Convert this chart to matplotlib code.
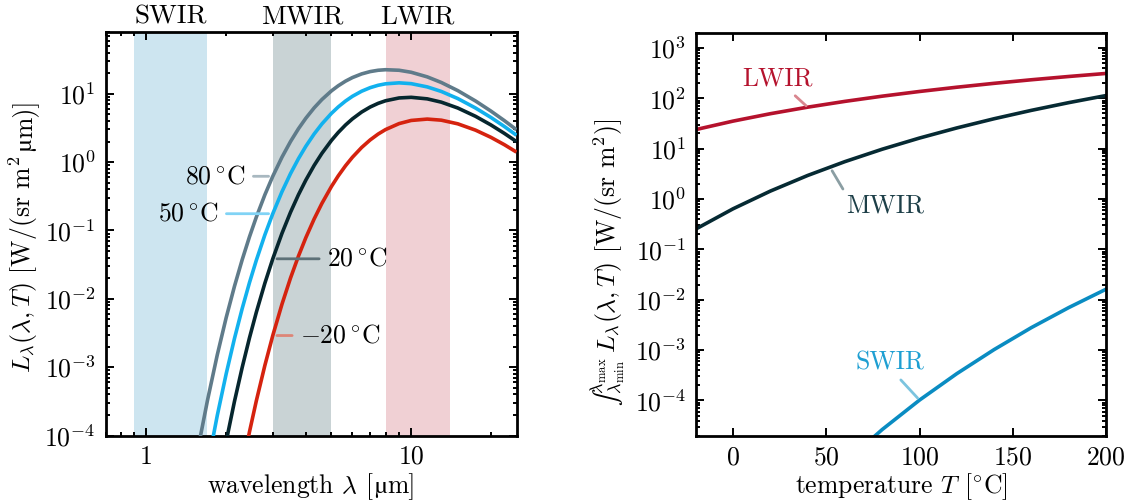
import numpy as np
import matplotlib
matplotlib.use("Agg")
import matplotlib.pyplot as plt
from matplotlib.ticker import LogLocator, FixedLocator, FixedFormatter, NullFormatter, MultipleLocator
import matplotlib.transforms as mtransforms

plt.rcParams['font.family'] = ['cmr10', 'DejaVu Serif']
plt.rcParams['mathtext.fontset'] = 'cm'
plt.rcParams['axes.formatter.use_mathtext'] = True
plt.rcParams['axes.unicode_minus'] = True

FS = 18.5

# ---------------- data: spectral radiance (log10 of W/(sr m^2 um)) ----------------
wavelength_um = [1.5, 1.6, 1.7, 1.85, 2.0, 2.15, 2.3, 2.45, 2.6, 2.8, 3.0, 3.25, 3.5, 3.75,
                 4.0, 4.3, 4.6, 5.0, 5.3, 5.65, 6.0, 6.5, 7.0, 7.5, 8.0, 9.0, 10.0, 11.5,
                 13.0, 15.0, 17.5, 20.0, 22.5, 25.0]
log_radiance_m20 = [-9.26, -8.372, -7.596, -6.602, -5.771, -5.067, -4.465, -3.945, -3.4927,
                    -2.9755, -2.5375, -2.0784, -1.6969, -1.3766, -1.1052, -0.8317, -0.604,
                    -0.3557, -0.2028, -0.0531, 0.0712, 0.2140, 0.3243, 0.4097, 0.4754, 0.5629,
                    0.6090, 0.6291, 0.6130, 0.5598, 0.4674, 0.3626, 0.2542, 0.1461]
log_radiance_p20 = [-7.015, -6.267, -5.615, -4.782, -4.087, -3.500, -3.001, -2.5701, -2.1972,
                    -1.7727, -1.4149, -1.0421, -0.7345, -0.4784, -0.2633, -0.0485, 0.1282,
                    0.3180, 0.4327, 0.5431, 0.6326, 0.7323, 0.8057, 0.8591, 0.8969, 0.9382,
                    0.9475, 0.9250, 0.8766, 0.7911, 0.6698, 0.5440, 0.4196, 0.2993]
log_radiance_p50 = [-5.696, -5.03, -4.451, -3.712, -3.098, -2.580, -2.140, -1.7623, -1.4363,
                    -1.0657, -0.7552, -0.4332, -0.1691, 0.0493, 0.2315, 0.4117, 0.5586,
                    0.7138, 0.8061, 0.8934, 0.9626, 1.0369, 1.0888, 1.1236, 1.1450, 1.1593,
                    1.1473, 1.1000, 1.0332, 0.9292, 0.7913, 0.6536, 0.5203, 0.3927]
log_radiance_p80 = [-4.601, -4.004, -3.485, -2.8245, -2.276, -1.816, -1.426, -1.0919, -0.8044,
                    -0.4792, -0.2078, 0.0722, 0.3001, 0.4873, 0.6419, 0.7937, 0.9155,
                    1.0424, 1.1160, 1.1843, 1.2366, 1.2900, 1.3240, 1.3433, 1.3513, 1.3434,
                    1.3140, 1.2466, 1.1644, 1.0455, 0.8941, 0.7468, 0.6062, 0.4731]
curve_labels = [r'$80\,^{\circ}\mathrm{C}$', r'$50\,^{\circ}\mathrm{C}$',
                r'$20\,^{\circ}\mathrm{C}$', r'$-20\,^{\circ}\mathrm{C}$']

# bands [um]
band_names = ['SWIR', 'MWIR', 'LWIR']
band_lo = [0.9, 3.0, 8.0]
band_hi = [1.7, 5.0, 14.0]

# ---------------- data: band-integrated radiance vs temperature ----------------
temperature_C = [-20, 0, 20, 40, 60, 80, 100, 120, 140, 160, 180, 200]
lwir_radiance = [23.84, 35.13, 49.28, 66.44, 86.64, 109.9, 136.2, 165.5, 197.7, 232.7, 270.3, 310.5]
mwir_radiance = [0.2526, 0.6379, 1.433, 2.927, 5.516, 9.729, 16.21, 25.73, 39.17, 57.49, 81.76, 113.0]
swir_radiance = [1.43e-9, 1.80e-8, 1.61e-7, 1.10e-6, 5.91e-6, 2.65e-5, 1.018e-4, 3.41e-4,
                 1.024e-3, 2.80e-3, 6.98e-3, 1.617e-2]

# ---------------- styling ----------------
band_colors = ['#cde5f0', '#c9d3d5', '#f0d0d4']
curve_colors = ['#5f7b8a', '#12b1ee', '#06262e', '#d5230f']
leader_colors = ['#a8b8c0', '#80d3f5', '#5d7178', '#dd8577']
right_colors = {'LWIR': '#b5122d', 'MWIR': '#062a33', 'SWIR': '#0a8cc2'}
right_text_colors = {'LWIR': '#b5122d', 'MWIR': '#1d3f48', 'SWIR': '#1e9fd2'}
right_leader_colors = {'LWIR': '#d9868f', 'MWIR': '#8b9ea3', 'SWIR': '#7cc4df'}
LW = 2.6

fig = plt.figure(figsize=(11.32, 5.04), dpi=100)
W, H = 1132, 504
axL = fig.add_axes([105.5 / W, (H - 435.5) / H, 411 / W, 403.5 / H])
axR = fig.add_axes([695.7 / W, (H - 435.7) / H, 410.3 / W, 403 / H])
renderer = fig.canvas.get_renderer()
ident = mtransforms.IdentityTransform()


def style_axis(ax):
    for s in ax.spines.values():
        s.set_linewidth(2.0)
    ax.tick_params(which='both', direction='in', top=True, right=True, labelsize=FS, width=1.4)
    ax.tick_params(which='major', length=6.0, pad=7)
    ax.tick_params(which='minor', length=3.0)


def composite_label(segments, base_px, center_px, vertical=False):
    """Text made of pieces in different fonts, centred on center_px (display pixels)."""
    widths = []
    for s, kw, gap in segments:
        t = fig.text(0, 0, s, fontsize=kw.get('fontsize', FS),
                     **{k: v for k, v in kw.items() if k != 'fontsize'})
        widths.append(t.get_window_extent(renderer).width + gap)
        t.remove()
    pos = center_px - sum(widths) / 2.0
    for (s, kw, gap), w in zip(segments, widths):
        opts = dict(fontsize=FS)
        opts.update(kw)
        if vertical:
            fig.text(base_px, pos, s, transform=ident, rotation=90, rotation_mode='anchor',
                     ha='left', va='baseline', **opts)
        else:
            fig.text(pos, base_px, s, transform=ident, ha='left', va='baseline', **opts)
        pos += w


# ---------------- left panel ----------------
wl = np.array(wavelength_um)
series = [log_radiance_p80, log_radiance_p50, log_radiance_p20, log_radiance_m20]
for lo, hi, c in zip(band_lo, band_hi, band_colors):
    axL.axvspan(lo, hi, color=c, lw=0, zorder=0)
for s, c in zip(series, curve_colors):
    axL.plot(wl, 10 ** np.array(s), color=c, lw=LW, zorder=3, solid_capstyle='butt')

axL.set_xscale('log')
axL.set_yscale('log')
axL.set_xlim(0.7, 25)
axL.set_ylim(1e-4, 80)
axL.xaxis.set_major_locator(FixedLocator([1, 10]))
axL.xaxis.set_major_formatter(FixedFormatter(['1', '10']))
axL.xaxis.set_minor_locator(LogLocator(base=10, subs=np.arange(2, 10)))
axL.xaxis.set_minor_formatter(NullFormatter())
axL.yaxis.set_major_locator(LogLocator(base=10, numticks=20))
axL.yaxis.set_minor_locator(LogLocator(base=10, subs=np.arange(2, 10), numticks=20))
axL.yaxis.set_minor_formatter(NullFormatter())
style_axis(axL)

mu_font = {'family': 'STIXGeneral', 'fontsize': FS * 0.95}
composite_label([('wavelength $\\lambda$ [', {}, 0.5), ('\u00b5', mu_font, 0.5), ('m]', {}, 0)],
                base_px=H - 493, center_px=311)
composite_label([('$L_\\lambda(\\lambda, T)$ [W/(sr m$^2$', {}, 4.5), ('\u00b5', mu_font, 0.5),
                 ('m)]', {}, 0)], base_px=31, center_px=H - 236, vertical=True)

trans = mtransforms.blended_transform_factory(axL.transData, axL.transAxes)
for name, lo, hi in zip(band_names, band_lo, band_hi):
    axL.text(np.sqrt(lo * hi), 1.008, name, transform=trans, ha='center', va='bottom',
             fontsize=FS + 1)

# annotations at 3 um
i3 = wavelength_um.index(3.0)
ann_cfg = [  # (dx px, ha, relpos)
    (-27, 'right', (1, 0.5)),
    (-54, 'right', (1, 0.5)),
    (54, 'left', (0, 0.5)),
    (27, 'left', (0, 0.5)),
]
for s, lab, lc, (dx, ha, rp) in zip(series, curve_labels, leader_colors, ann_cfg):
    axL.annotate(lab, xy=(wl[i3], 10 ** s[i3]), xytext=(dx, 0), textcoords='offset pixels',
                 ha=ha, va='center', fontsize=FS,
                 arrowprops=dict(arrowstyle='-', color=lc, lw=2.0, relpos=rp,
                                 shrinkA=3.5, shrinkB=3.0))

# ---------------- right panel ----------------
T = np.array(temperature_C)
axR.plot(T, lwir_radiance, color=right_colors['LWIR'], lw=LW)
axR.plot(T, mwir_radiance, color=right_colors['MWIR'], lw=LW)
axR.plot(T, swir_radiance, color=right_colors['SWIR'], lw=LW)
axR.set_yscale('log')
axR.set_xlim(-20, 200)
axR.set_ylim(2e-5, 2e3)
axR.xaxis.set_major_locator(MultipleLocator(50))
axR.yaxis.set_major_locator(LogLocator(base=10, numticks=20))
axR.yaxis.set_minor_locator(LogLocator(base=10, subs=np.arange(2, 10), numticks=20))
axR.yaxis.set_minor_formatter(NullFormatter())
style_axis(axR)
axR.set_xlabel(r'temperature $T$ [$^{\circ}$C]', fontsize=FS)
axR.xaxis.set_label_coords(0.5, -0.088)
axR.set_ylabel('$\u222b_{\\lambda_\\mathrm{min}}^{\\lambda_\\mathrm{max}}\\, L_\\lambda(\\lambda, T)$ [W/(sr m$^2$)]',
               fontsize=FS)
axR.yaxis.set_label_coords(-0.165, 0.43)

# annotation anchors
i40 = temperature_C.index(40)
i100 = temperature_C.index(100)
mw_anchor_T = 52
mw_anchor_v = 10 ** np.interp(mw_anchor_T, T, np.log10(mwir_radiance))

axR.annotate('LWIR', xy=(40, lwir_radiance[i40]), xytext=(-65, 17), textcoords='offset pixels',
             ha='left', va='bottom', fontsize=FS, color=right_text_colors['LWIR'],
             arrowprops=dict(arrowstyle='-', color=right_leader_colors['LWIR'], lw=2.0,
                             relpos=(0.66, 0), shrinkA=3, shrinkB=1.5))
axR.annotate('MWIR', xy=(mw_anchor_T, mw_anchor_v), xytext=(16, -27), textcoords='offset pixels',
             ha='left', va='top', fontsize=FS, color=right_text_colors['MWIR'],
             arrowprops=dict(arrowstyle='-', color=right_leader_colors['MWIR'], lw=2.0,
                             relpos=(0, 1), shrinkA=2, shrinkB=3))
axR.annotate('SWIR', xy=(100, swir_radiance[i100]), xytext=(-64, 26), textcoords='offset pixels',
             ha='left', va='bottom', fontsize=FS, color=right_text_colors['SWIR'],
             arrowprops=dict(arrowstyle='-', color=right_leader_colors['SWIR'], lw=2.0,
                             relpos=(0.58, 0), shrinkA=3, shrinkB=2))

fig.savefig('out.png', dpi=100)
